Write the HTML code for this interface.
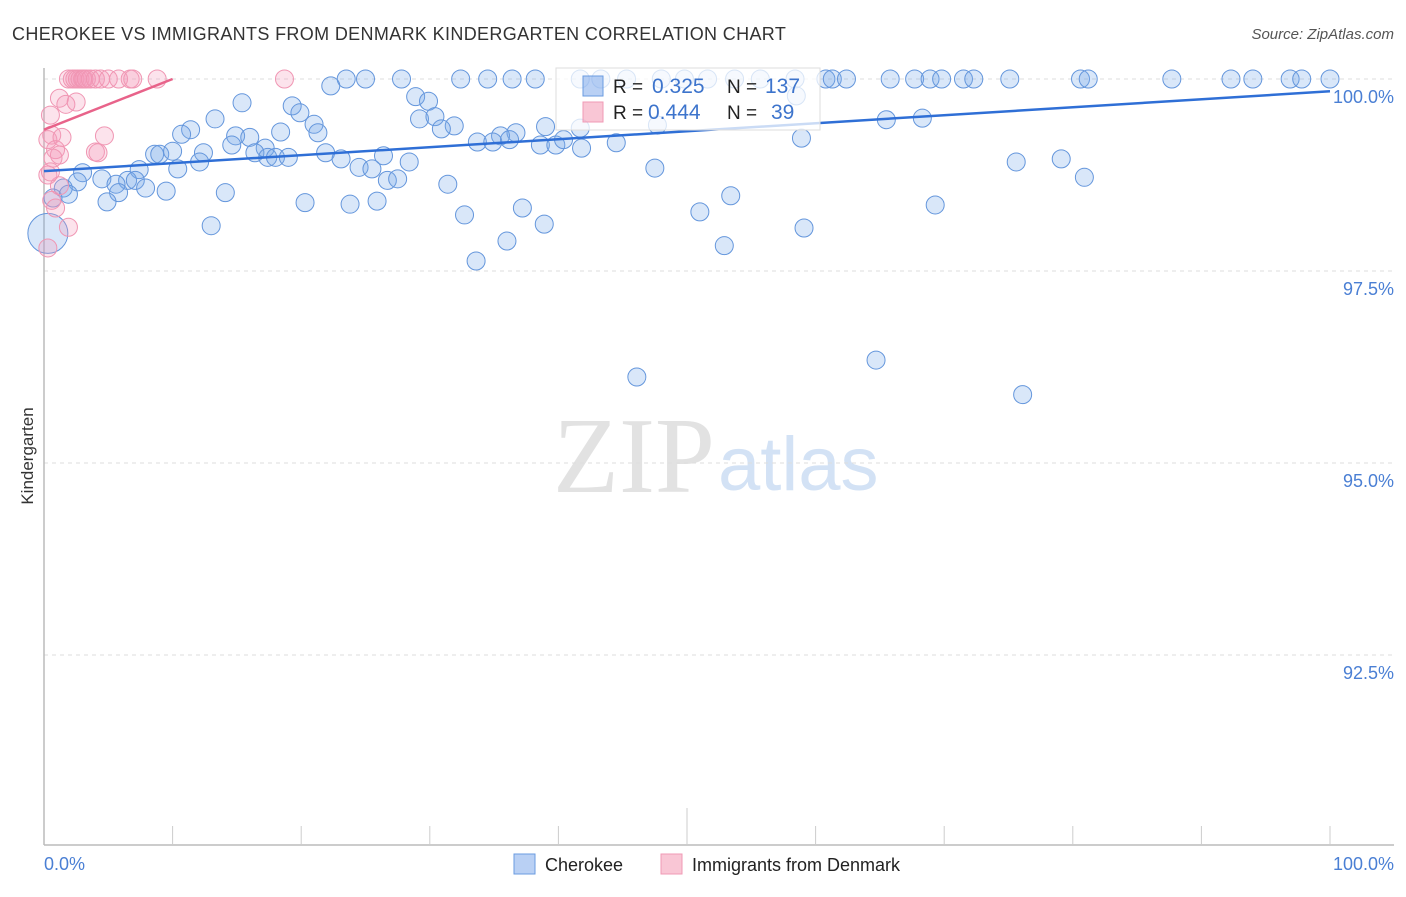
<!DOCTYPE html>
<html><head><meta charset="utf-8"><style>
body{margin:0;background:#fff;font-family:"Liberation Sans",sans-serif;}
svg text{font-family:"Liberation Sans",sans-serif;}
</style></head><body>
<svg id="chart" width="1406" height="892">
<text x="12" y="40" font-size="18" fill="#333" letter-spacing="0.35">CHEROKEE VS IMMIGRANTS FROM DENMARK KINDERGARTEN CORRELATION CHART</text>
<text x="1394" y="39" font-size="15" fill="#555" font-style="italic" text-anchor="end">Source: ZipAtlas.com</text>
<text transform="translate(33,456) rotate(-90)" font-size="17" fill="#333" text-anchor="middle">Kindergarten</text>
<g>
<text x="553" y="492" font-size="108" fill="#e2e2e2" style="font-family:'Liberation Serif',serif">ZIP</text>
<text x="718" y="490" font-size="76" fill="#d3e2f5">atlas</text>
</g>
<g id="grid"></g><g id="axes"></g><g id="pts"></g><g id="trend"></g>
<g>
<rect x="556" y="68" width="264" height="62" fill="rgba(255,255,255,0.75)" stroke="#ddd"/>
<rect x="583" y="76" width="20" height="20" fill="rgba(100,150,230,0.45)" stroke="#6a9be0"/>
<rect x="583" y="102" width="20" height="20" fill="rgba(245,160,185,0.6)" stroke="#f09ab5"/>
<text x="613" y="93" font-size="19" fill="#222">R =</text><text x="652" y="93" font-size="21" fill="#3d74cc">0.325</text>
<text x="727" y="93" font-size="19" fill="#222">N =</text><text x="765" y="93" font-size="21" fill="#3d74cc">137</text>
<text x="613" y="119" font-size="19" fill="#222">R =</text><text x="648" y="119" font-size="21" fill="#3d74cc">0.444</text>
<text x="727" y="119" font-size="19" fill="#222">N =</text><text x="771" y="119" font-size="21" fill="#3d74cc">39</text>
</g>
<g>
<rect x="514" y="854" width="21" height="20" fill="rgba(100,150,230,0.45)" stroke="#6a9be0"/>
<text x="545" y="871" font-size="18" fill="#222">Cherokee</text>
<rect x="661" y="854" width="21" height="20" fill="rgba(245,160,185,0.6)" stroke="#f09ab5"/>
<text x="692" y="871" font-size="18" fill="#222">Immigrants from Denmark</text>
</g>
</svg>
<script>
const blueX=[23.5,25.0,27.8,32.4,34.5,36.4,38.2,41.7,43.3,45.3,48.0,49.8,51.6,53.7,55.7,58.4,60.8,61.3,62.4,65.8,67.7,68.9,69.8,71.5,72.3,75.1,80.6,81.2,87.7,92.3,94.0,96.9,97.8,100,
22.3,15.4,28.9,29.9,19.3,19.9,13.3,21.0,29.2,30.4,31.9,30.9,11.4,10.7,18.4,21.3,14.9,16.0,36.7,35.5,39.0,33.7,34.9,36.2,38.6,39.8,40.4,41.8,44.5,41.7,14.6,17.2,12.4,8.6,9.0,10.0,16.4,17.4,18.0,19.0,21.9,23.1,26.4,28.4,24.5,25.5,10.4,7.4,12.1,3.0,4.5,2.6,1.5,6.5,7.1,5.6,7.9,9.5,14.1,5.8,1.9,0.7,4.9,20.3,23.8,25.9,26.7,27.5,31.4,13.0,32.7,37.2,38.9,36.0,33.6,47.5,51.0,53.4,52.9,59.1,58.9,65.5,68.3,69.3,75.6,79.1,80.9,46.1,64.7,76.1,58.5,47.7,0.3];
const blueY=[100,100,100,100,100,100,100,100,100,100,100,100,100,100,100,100,100,100,100,100,100,100,100,100,100,100,100,100,100,100,100,100,100,100,
99.91,99.69,99.77,99.71,99.65,99.56,99.48,99.41,99.48,99.51,99.39,99.35,99.34,99.28,99.31,99.30,99.26,99.24,99.30,99.26,99.38,99.18,99.18,99.21,99.14,99.14,99.21,99.10,99.17,99.36,99.14,99.10,99.04,99.02,99.02,99.06,99.04,98.98,98.98,98.98,99.04,98.96,99.00,98.92,98.85,98.83,98.83,98.82,98.92,98.78,98.70,98.66,98.58,98.68,98.68,98.63,98.58,98.54,98.52,98.52,98.50,98.45,98.40,98.39,98.37,98.41,98.68,98.70,98.63,98.09,98.23,98.32,98.11,97.89,97.63,98.84,98.27,98.48,97.83,98.06,99.23,99.47,99.49,98.36,98.92,98.96,98.72,96.12,96.34,95.89,99.78,99.40,97.99];
const pinkX=[1.9,2.2,2.4,2.6,2.8,3.0,3.1,3.3,3.6,4.0,4.4,5.0,5.8,6.7,6.9,8.8,18.7,1.2,1.7,2.5,0.5,0.6,0.3,1.4,0.9,1.2,0.7,4.7,4.0,4.2,1.2,0.6,0.9,1.9,0.3,0.3,0.5];
const pinkY=[100,100,100,100,100,100,100,100,100,100,100,100,100,100,100,100,100,99.75,99.67,99.70,99.53,99.27,99.21,99.24,99.08,99.01,98.97,99.26,99.05,99.04,98.61,98.42,98.32,98.07,97.80,98.75,98.79];
const blueTrend=[98.80,99.84];
const pinkTrend=[99.34,100];
const yTicks=[100,97.5,95,92.5];
const yTickLabels=["100.0%","97.5%","95.0%","92.5%"];
const NS="http://www.w3.org/2000/svg";
const sx=v=>44+v*12.86;
const sy=v=>79+(100-v)*76.8;
function mk(tag,attrs,parent){const e=document.createElementNS(NS,tag);for(const k in attrs)e.setAttribute(k,attrs[k]);document.getElementById(parent).appendChild(e);return e;}
yTicks.forEach((t,i)=>{
 const l=mk('line',{x1:44,x2:1394,y1:sy(t),y2:sy(t),stroke:'#ddd','stroke-dasharray':'4,4'},'grid');
 
 
 const tx=mk('text',{x:1394,y:sy(t)+24,'font-size':18,fill:'#4a7fd4','text-anchor':'end'},'grid');
 tx.textContent=yTickLabels[i];
 
 
});
let a=mk('line',{x1:44,x2:44,y1:68,y2:845,stroke:'#bbb','stroke-width':1.5},'axes');


a=mk('line',{x1:44,x2:1394,y1:845,y2:845,stroke:'#bbb','stroke-width':1.5},'axes');


for(let i=1;i<=10;i++){const x=sx(i*10);const t=mk('line',{x1:x,x2:x,y1:i==5?808:826,y2:845,stroke:'#ccc'},'axes');
 
 }
let lb=mk('text',{x:44,y:870,'font-size':18,fill:'#4a7fd4'},'axes');lb.textContent='0.0%';


lb=mk('text',{x:1394,y:870,'font-size':18,fill:'#4a7fd4','text-anchor':'end'},'axes');lb.textContent='100.0%';


blueX.forEach((x,i)=>{const big=(i===blueX.length-1);const c=mk('circle',{cx:sx(x),cy:sy(blueY[i]),r:big?20:9,fill:'rgba(120,168,232,0.28)',stroke:'#6496dc','stroke-width':1},'pts');
 
 });
pinkX.forEach((x,i)=>{const c=mk('circle',{cx:sx(x),cy:sy(pinkY[i]),r:9,fill:'rgba(245,155,185,0.28)',stroke:'#f096b3','stroke-width':1},'pts');
 
 });
let tl=mk('line',{x1:sx(0),y1:sy(blueTrend[0]),x2:sx(100),y2:sy(blueTrend[1]),stroke:'#2f6fd6','stroke-width':2.5},'trend');


tl=mk('line',{x1:sx(0),y1:sy(pinkTrend[0]),x2:sx(10),y2:sy(pinkTrend[1]),stroke:'#e8638a','stroke-width':2.5},'trend');


</script>
</body></html>
